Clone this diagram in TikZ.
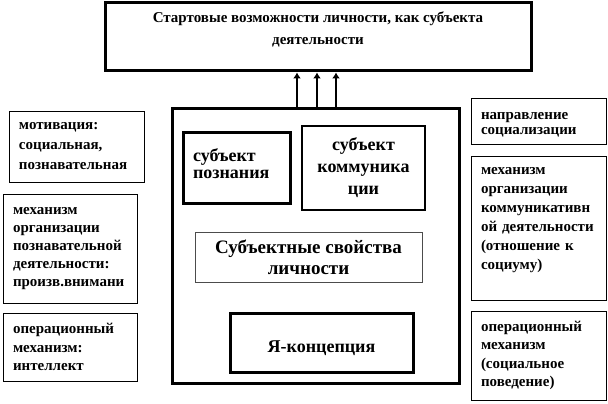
\documentclass[tikz,border=0pt]{standalone}
\usepackage{fontspec}
\setmainfont{Liberation Serif}
\usepackage{tikz}
\usetikzlibrary{arrows.meta}
\tikzset{>=stealth}
\tikzstyle{frame} = [draw, line width=3pt, inner sep=0pt]
\tikzstyle{thinbox} = [draw, line width=0.8pt]
\tikzstyle{side} = [thinbox, align=left, text width=115pt, inner xsep=10pt,
inner ysep=0pt]
\tikzstyle{line} = [draw, line width=2.5pt, -{Latex[length=6pt,width=8pt]}]

\begin{document}
\begin{tikzpicture}[x=1pt, y=-1pt]
      \useasboundingbox (0,0) rectangle (608,404);
      %% top box
      \node [frame, minimum width=426pt, minimum height=68pt, align=center,
        text depth=18pt, font=\fontsize{15}{22}\selectfont\bfseries] (start) at (318,37)
        {Стартовые возможности личности, как субъекта\\деятельности};
      %% main box
      \node [frame, minimum width=287pt, minimum height=275pt] (main) at (315.5,245.5) {};
      \node [frame, minimum width=107pt, minimum height=71pt, text width=87pt,
        inner xsep=10pt, align=left, text depth=25pt,
        font=\fontsize{18}{17}\selectfont\bfseries]
        (poz) at (236.5,167.5) {субъект\\познания};
      \node [frame, line width=2.5pt, minimum width=123pt, minimum height=84pt,
        align=center, font=\fontsize{18}{22}\selectfont\bfseries]
        (komm) at (363.5,168) {субъект\\коммуника\\ции};
      \node [thinbox, draw=black!70, minimum width=227pt, minimum height=50pt,
        align=center, font=\fontsize{19}{21}\selectfont\bfseries]
        (svoj) at (308.5,257) {Субъектные свойства\\личности};
      \node [frame, minimum width=183pt, minimum height=59pt, text height=23pt,
        font=\fontsize{18}{22}\selectfont\bfseries] (ya) at (321.5,342.5) {Я-концепция};
      %% left column
      \node [side, minimum width=135pt, minimum height=71pt,
        font=\fontsize{15}{20}\selectfont\bfseries] (mot) at (76.5,146.5)
        {мотивация:\\социальная,\\познавательная};
      \node [side, text width=114pt, minimum height=109pt,
        font=\fontsize{15}{18}\selectfont\bfseries] (mechL) at (70,248.5)
        {механизм\\организации\\познавательной\\деятельности:\\произв.внимани};
      \node [side, text width=114pt, minimum height=68pt,
        font=\fontsize{15}{18.5}\selectfont\bfseries] (opL) at (70,347)
        {операционный\\механизм:\\интеллект};
      %% right column
      \node [side, minimum height=46pt, text height=15pt,
        font=\fontsize{15}{15}\selectfont\bfseries]
        (napr) at (538.5,121) {направление\\социализации};
      \node [side, minimum height=144pt, text depth=115pt,
        font=\fontsize{15}{19}\selectfont\bfseries] (mechR) at (538.5,228)
        {механизм\\организации\\коммуникативн\\ой деятельности\\(отношение к\\социуму)};
      \node [side, minimum height=89pt, font=\fontsize{15}{18.5}\selectfont\bfseries]
        (opR) at (538.5,355.5) {операционный\\механизм\\(социальное\\поведение)};
      %% Flows
      \coordinate (f1) at ([xshift=-18.5pt]main.north);
      \coordinate (f2) at ([xshift=1.5pt]main.north);
      \coordinate (f3) at ([xshift=20.5pt]main.north);
      \path [line] (f1) -- (f1 |- start.south);
      \path [line] (f2) -- (f2 |- start.south);
      \path [line] (f3) -- (f3 |- start.south);
    \end{tikzpicture}
\end{document}
